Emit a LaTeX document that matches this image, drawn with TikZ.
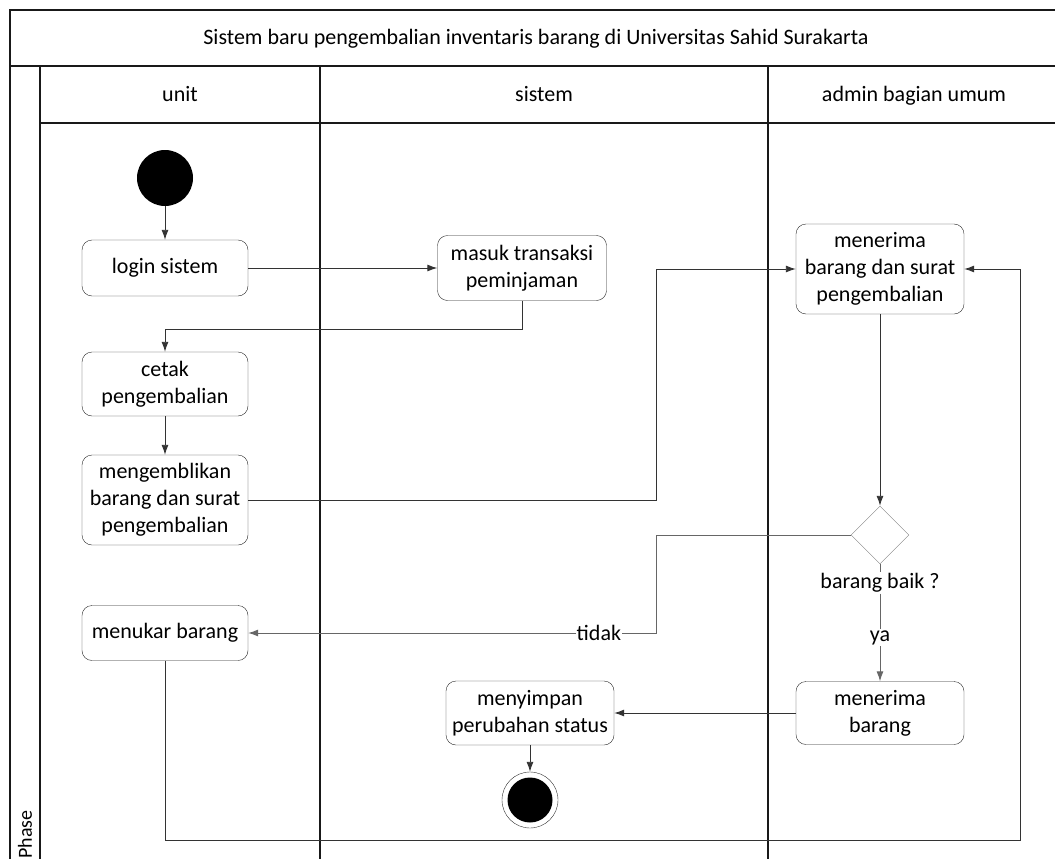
\documentclass[tikz,border=0pt]{standalone}
\usepackage{fontspec}
\setmainfont{Carlito}
\usetikzlibrary{shapes.geometric,arrows.meta}

\begin{document}
\begin{tikzpicture}[x=1pt,y=-1pt,>={Latex[length=10pt,width=7pt]},font=\fontsize{22}{27}\selectfont]
        \tikzstyle{act}=[draw=black!85,rounded corners=10pt,minimum width=166pt,align=center,inner sep=2pt]
        \tikzstyle{lane}=[draw=black!90,line width=1.1pt]
        \tikzstyle{flow}=[draw=black!80,line width=0.9pt]
        \clip (0,0) rectangle (1055,859);

        % frame and lanes
        \draw[lane] (10,10) rectangle (1070,880);
        \draw[lane] (10,66) -- (1070,66);
        \draw[lane] (40,123) -- (1070,123);
        \draw[lane] (40,66) -- (40,880);
        \draw[lane] (320,66) -- (320,880);
        \draw[lane] (768,66) -- (768,880);
        \node[anchor=base] (title) at (536,45) {Sistem baru pengembalian inventaris barang di Universitas Sahid Surakarta};
        \node[anchor=base] (unit) at (180,101) {unit};
        \node[anchor=base] (sistem) at (544,101) {sistem};
        \node[anchor=base] (admin) at (914,101) {admin bagian umum};
        \node[rotate=90,anchor=west,inner sep=0pt,font=\fontsize{20}{22}\selectfont] (phase) at (25,859) {Phase};

        % activities
        \node[circle,fill=black,minimum size=56pt,inner sep=0pt] (init) at (165,178) {};
        \node[act,minimum height=56pt] (login) at (165,268) {login sistem};
        \node[act,minimum width=169pt,minimum height=65pt] (masuk) at (522,268) {masuk transaksi\\peminjaman};
        \node[act,minimum width=168pt,minimum height=90pt] (terima) at (880,269) {menerima\\barang dan surat\\pengembalian};
        \node[act,minimum height=64pt] (cetak) at (165,384) {cetak\\pengembalian};
        \node[act,minimum height=90pt] (kembali) at (165,500) {mengemblikan\\barang dan surat\\pengembalian};
        \node[diamond,draw=black!50,minimum size=58pt,inner sep=0pt,fill=white] (cek) at (880,535) {};
        \node[fill=white,inner sep=1pt] (baik) at (880,583) {barang baik ?};
        \node[act,minimum height=55pt] (tukar) at (165,633) {menukar barang};
        \node[act,minimum width=168pt,minimum height=63pt] (terima2) at (880,713) {menerima\\barang};
        \node[act,minimum width=168pt,minimum height=64pt] (simpan) at (530,713) {menyimpan\\perubahan status};
        \node[circle,draw=black!80,minimum size=56pt,inner sep=0pt] (final) at (530,800) {};
        \node[circle,fill=black,minimum size=45pt,inner sep=0pt] (finaldot) at (530,800) {};

        \coordinate (k1) at (656,500);
        \coordinate (k2) at (656,535);
        \coordinate (k3) at (1020,840);

        % connectors
        \draw[flow,->] (init) -- (login);
        \draw[flow,->] (login) -- (masuk);
        \draw[flow,->] (masuk.south) -- ++(0,29) -| (cetak);
        \draw[flow,->] (cetak) -- (kembali);
        \draw[flow,->] (kembali) -- (k1) |- (terima);
        \draw[flow,->] (terima) -- (cek);
        \draw[flow,draw=black!60,->] (cek) -- (k2) |- node[pos=0.57,fill=white,inner sep=1pt] {tidak} (tukar);
        \draw[flow,draw=black!60] (cek) -- (baik);
        \draw[flow,draw=black!60,->] (baik) -- node[fill=white,inner sep=1pt] {ya} (terima2);
        \draw[flow,->] (terima2) -- (simpan);
        \draw[flow,->] (simpan) -- (final);
        \draw[flow,->] (tukar) |- (k3) |- (terima);
\end{tikzpicture}
\end{document}
